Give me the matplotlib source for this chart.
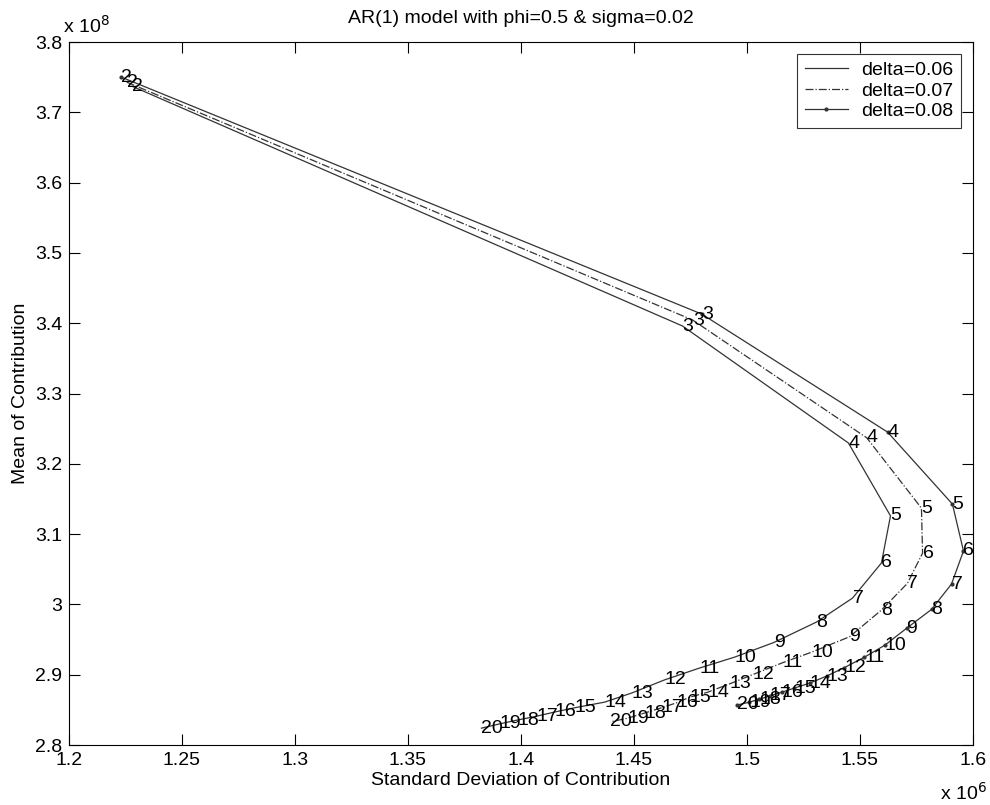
import numpy as np
import matplotlib
matplotlib.use('Agg')
from matplotlib import pyplot as plt

matplotlib.rcParams['font.family'] = ['Liberation Sans', 'DejaVu Sans']

# period labels for each point on the frontier
periods = list(range(2, 21))

# delta=0.06 (std in 1e6, mean in 1e8)
std_06 = [1.2280, 1.4715, 1.5449, 1.5635, 1.5595, 1.5467, 1.5308, 1.5120, 1.4945, 1.4790,
          1.4634, 1.4490, 1.4370, 1.4237, 1.4150, 1.4069, 1.3985, 1.3905, 1.3825]
mean_06 = [3.737, 3.396, 3.2296, 3.126, 3.059, 3.009, 2.975, 2.946, 2.925, 2.9095,
           2.8925, 2.874, 2.861, 2.853, 2.847, 2.841, 2.8356, 2.830, 2.824]

# delta=0.07
std_07 = [1.2255, 1.4760, 1.5530, 1.5772, 1.5777, 1.5710, 1.5595, 1.5454, 1.5285, 1.5157,
          1.5024, 1.4923, 1.4825, 1.4746, 1.4688, 1.4622, 1.4547, 1.4470, 1.4396]
mean_07 = [3.743, 3.4045, 3.237, 3.137, 3.073, 3.030, 2.992, 2.954, 2.932, 2.917,
           2.900, 2.887, 2.875, 2.868, 2.860, 2.853, 2.8455, 2.838, 2.833]

# delta=0.08
std_08 = [1.2232, 1.4800, 1.5622, 1.5909, 1.5958, 1.5905, 1.5817, 1.5706, 1.5610, 1.5520,
          1.5430, 1.5352, 1.5277, 1.5210, 1.5153, 1.5100, 1.5055, 1.5010, 1.4958]
mean_08 = [3.750, 3.413, 3.2452, 3.1428, 3.076, 3.029, 2.993, 2.966, 2.942, 2.925,
           2.910, 2.898, 2.888, 2.881, 2.875, 2.870, 2.865, 2.861, 2.857]

xticks = [1.2, 1.25, 1.3, 1.35, 1.4, 1.45, 1.5, 1.55, 1.6]
xticklabels = ['1.2', '1.25', '1.3', '1.35', '1.4', '1.45', '1.5', '1.55', '1.6']
yticks = [2.8, 2.9, 3.0, 3.1, 3.2, 3.3, 3.4, 3.5, 3.6, 3.7, 3.8]
yticklabels = ['2.8', '2.9', '3', '3.1', '3.2', '3.3', '3.4', '3.5', '3.6', '3.7', '3.8']

fs = 14
fig = plt.figure(figsize=(9.9, 8.05), dpi=100)
ax = fig.add_axes([0.0697, 0.0745, 0.9131, 0.8733])

ax.plot(std_06, mean_06, '-', color='#333333', lw=0.9, label='delta=0.06')
ax.plot(std_07, mean_07, '-.', color='#333333', lw=0.9, label='delta=0.07')
ax.plot(std_08, mean_08, '.-', color='#333333', lw=0.9, ms=4, label='delta=0.08')

for xs, ys in [(std_06, mean_06), (std_07, mean_07), (std_08, mean_08)]:
    for p, xv, yv in zip(periods, xs, ys):
        ax.text(xv, yv, str(p), fontsize=fs, ha='left', va='center')

ax.set_xlim(1.2, 1.6)
ax.set_ylim(2.8, 3.8)
ax.set_xticks(xticks)
ax.set_xticklabels(xticklabels, fontsize=fs)
ax.set_yticks(yticks)
ax.set_yticklabels(yticklabels, fontsize=fs)
ax.tick_params(direction='in', top=True, right=True, length=8, width=0.8, pad=5)
for sp in ax.spines.values():
    sp.set_linewidth(0.8)

ax.set_title('AR(1) model with phi=0.5 & sigma=0.02', fontsize=fs, pad=14)
ax.set_xlabel('Standard Deviation of Contribution', fontsize=fs, labelpad=2)
ax.set_ylabel('Mean of Contribution', fontsize=fs, labelpad=4)

fig.text(63 / 990, 1 - 33 / 805, r'x 10$^{8}$', fontsize=fs, ha='left', va='baseline')
fig.text(987 / 990, 1 - 800 / 805, r'x 10$^{6}$', fontsize=fs, ha='right', va='baseline')

leg = ax.legend(loc='upper right', fontsize=fs, frameon=True, fancybox=False,
                edgecolor='black', handlelength=2.2, handletextpad=0.7,
                borderaxespad=0.6, labelspacing=0.15, borderpad=0.4)
leg.get_frame().set_linewidth(0.8)

fig.savefig('out.png', dpi=100)
